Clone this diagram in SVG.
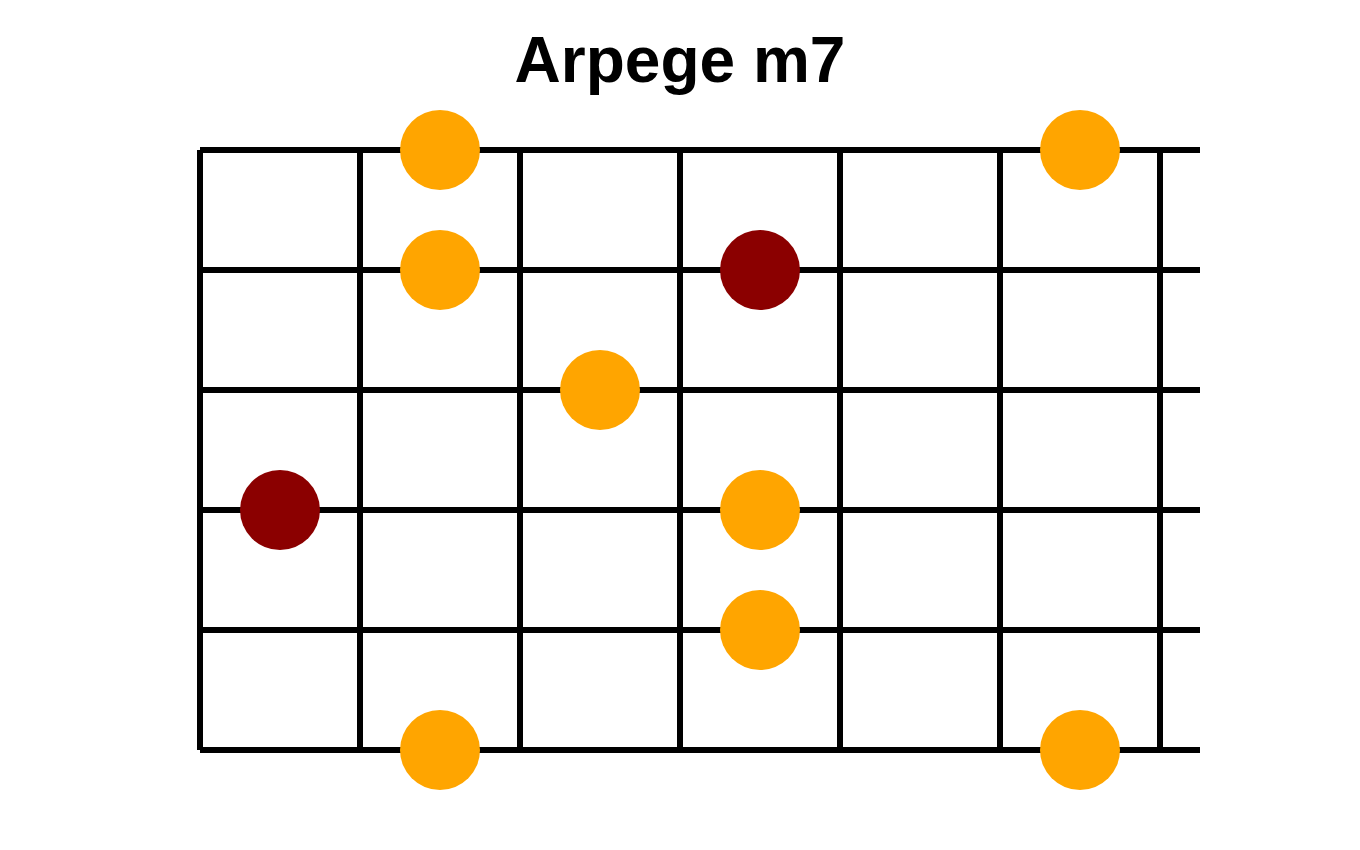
<svg xmlns="http://www.w3.org/2000/svg" width="1360" height="850" viewBox="0 0 1360 850">
<style>
.grid line{stroke:#000;stroke-width:6;stroke-linecap:butt}
.o{fill:#FFA500}
.r{fill:#8B0000}
.title{font-family:"Liberation Sans",Arial,sans-serif;font-weight:bold;font-size:64px;fill:#000}
</style>
<rect width="1360" height="850" fill="#fff"/>
<text class="title" x="680" y="82" text-anchor="middle">Arpege m7</text>
<g id="connectors" class="grid">
<line x1="200" y1="150" x2="1200" y2="150"/>
<line x1="200" y1="270" x2="1200" y2="270"/>
<line x1="200" y1="390" x2="1200" y2="390"/>
<line x1="200" y1="510" x2="1200" y2="510"/>
<line x1="200" y1="630" x2="1200" y2="630"/>
<line x1="200" y1="750" x2="1200" y2="750"/>
<line x1="200" y1="150" x2="200" y2="750"/>
<line x1="360" y1="150" x2="360" y2="750"/>
<line x1="520" y1="150" x2="520" y2="750"/>
<line x1="680" y1="150" x2="680" y2="750"/>
<line x1="840" y1="150" x2="840" y2="750"/>
<line x1="1000" y1="150" x2="1000" y2="750"/>
<line x1="1160" y1="150" x2="1160" y2="750"/>
</g>
<g id="n1"><circle class="o" cx="440" cy="150" r="40"/></g>
<g id="n2"><circle class="o" cx="1080" cy="150" r="40"/></g>
<g id="n3"><circle class="o" cx="440" cy="270" r="40"/></g>
<g id="n4"><circle class="r" cx="760" cy="270" r="40"/></g>
<g id="n5"><circle class="o" cx="600" cy="390" r="40"/></g>
<g id="n6"><circle class="r" cx="280" cy="510" r="40"/></g>
<g id="n7"><circle class="o" cx="760" cy="510" r="40"/></g>
<g id="n8"><circle class="o" cx="760" cy="630" r="40"/></g>
<g id="n9"><circle class="o" cx="440" cy="750" r="40"/></g>
<g id="n10"><circle class="o" cx="1080" cy="750" r="40"/></g>
</svg>
